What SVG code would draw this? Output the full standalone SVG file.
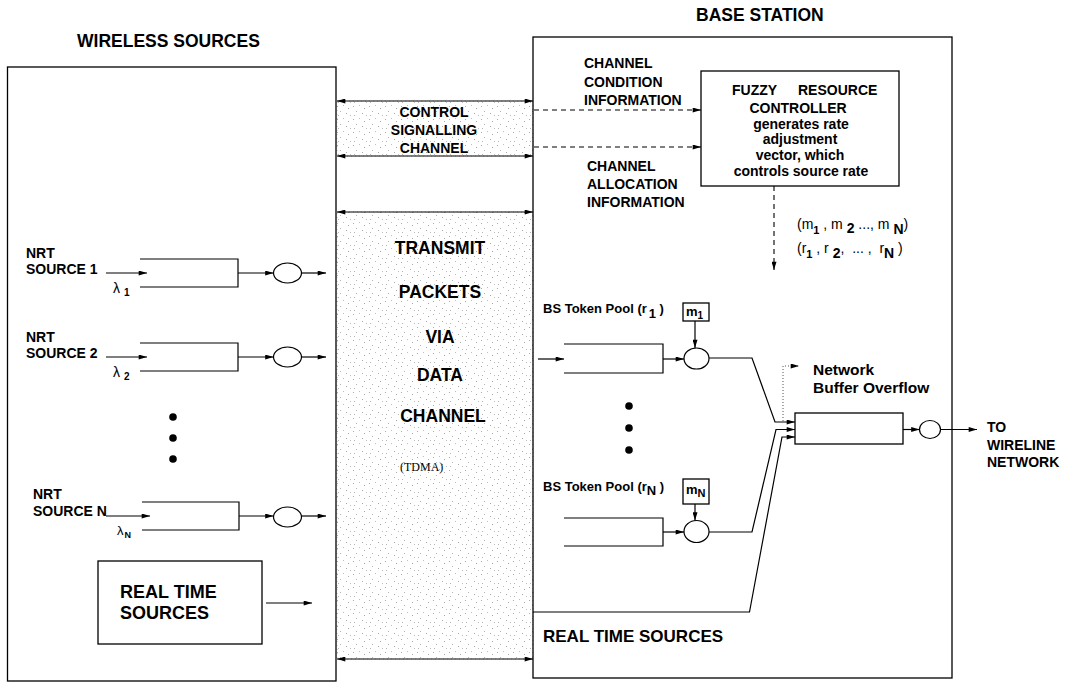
<svg xmlns="http://www.w3.org/2000/svg" width="1066" height="684" viewBox="0 0 1066 684">
<defs>
<style>
.b{font-family:"Liberation Sans",Arial,Helvetica,sans-serif;font-weight:bold;fill:#000}
.r{font-family:"Liberation Sans",Arial,Helvetica,sans-serif;fill:#000}
.box{fill:#fff;stroke:#000;stroke-width:1.3}
.ar{fill:none;stroke:#000;stroke-width:1.2;marker-end:url(#ah)}
.dar{fill:none;stroke:#000;stroke-width:1.2;marker-start:url(#ah);marker-end:url(#ah)}
.dash{fill:none;stroke:#000;stroke-width:1.1;stroke-dasharray:5 4;marker-end:url(#ah)}
.dot{fill:none;stroke:#555;stroke-width:1;stroke-dasharray:1 2;marker-end:url(#ah)}
.q{fill:none;stroke:#000;stroke-width:1.2}
.c{fill:#fff;stroke:#000;stroke-width:1.2}
.shade{fill:url(#stip);stroke:#b5b5b5;stroke-width:0.8;stroke-dasharray:1 3}
</style>
<marker id="ah" viewBox="0 0 10 6" refX="10" refY="3" markerWidth="9" markerHeight="5" markerUnits="userSpaceOnUse" orient="auto-start-reverse">
<path d="M0,0 L10,3 L0,6 z" fill="#000"/>
</marker>
<pattern id="stip" width="16" height="13" patternUnits="userSpaceOnUse">
<rect x="1" y="2" width="1" height="1" fill="#a8a8a8"/>
<rect x="7" y="1" width="1" height="1" fill="#bdbdbd"/>
<rect x="12" y="4" width="1" height="1" fill="#a8a8a8"/>
<rect x="4" y="7" width="1" height="1" fill="#b5b5b5"/>
<rect x="10" y="9" width="1" height="1" fill="#a8a8a8"/>
<rect x="14" y="11" width="1" height="1" fill="#c0c0c0"/>
<rect x="2" y="11" width="1" height="1" fill="#b5b5b5"/>
</pattern>
</defs>
<rect width="1066" height="684" fill="#fff"/>

<!-- channel shading -->
<g id="channels">
<rect class="shade" x="337" y="101" width="196" height="55"/>
<rect class="shade" x="337" y="212" width="196" height="447"/>
</g>

<!-- titles -->
<text class="b" x="77" y="47" font-size="17.5">WIRELESS SOURCES</text>
<text class="b" x="696" y="21" font-size="17.5">BASE STATION</text>

<!-- wireless sources box -->
<g id="wireless-box">
<rect x="7.5" y="67" width="328.5" height="614" fill="none" stroke="#000" stroke-width="1.3"/>
</g>

<!-- base station box -->
<g id="base-station-box">
<rect x="533" y="37" width="419" height="641" fill="none" stroke="#000" stroke-width="1.3"/>
</g>

<g id="control-channel-label">
<text class="b" font-size="14" text-anchor="middle"><tspan x="434" y="117">CONTROL</tspan><tspan x="434" y="135">SIGNALLING</tspan><tspan x="434" y="153">CHANNEL</tspan></text>
</g>

<g id="data-channel-label">
<text class="b" font-size="17.5" text-anchor="middle"><tspan x="440" y="254">TRANSMIT</tspan><tspan x="440" y="298">PACKETS</tspan><tspan x="440" y="343">VIA</tspan><tspan x="440" y="381">DATA</tspan><tspan x="443" y="422">CHANNEL</tspan></text>
<text x="400" y="471" font-family="'Liberation Serif','Times New Roman',serif" font-size="12">(TDMA)</text>
</g>

<!-- NRT source 1 -->
<g id="nrt-source-1">
<text class="b" font-size="14"><tspan x="26" y="258">NRT</tspan><tspan x="26" y="274">SOURCE 1</tspan></text>
<path class="q" d="M140,259 H238 V287 H140"/>
<text class="r" x="113" y="293" font-size="14">λ<tspan dx="4" dy="3" font-size="10" font-weight="bold">1</tspan></text>
<ellipse class="c" cx="287.5" cy="273" rx="14" ry="10"/>
</g>

<!-- NRT source 2 -->
<g id="nrt-source-2">
<text class="b" font-size="14"><tspan x="26" y="342">NRT</tspan><tspan x="26" y="358">SOURCE 2</tspan></text>
<path class="q" d="M140,343 H238 V371 H140"/>
<text class="r" x="113" y="377" font-size="14">λ<tspan dx="4" dy="3" font-size="10" font-weight="bold">2</tspan></text>
<ellipse class="c" cx="287.5" cy="357" rx="14" ry="10"/>
</g>

<g id="wireless-dots">
<circle cx="173" cy="417" r="3.8"/>
<circle cx="173" cy="438" r="3.8"/>
<circle cx="173" cy="459" r="3.8"/>
</g>

<!-- NRT source N -->
<g id="nrt-source-n">
<text class="b" font-size="14"><tspan x="33" y="499">NRT</tspan><tspan x="33" y="516">SOURCE N</tspan></text>
<path class="q" d="M142,502 H239 V530 H142"/>
<text class="r" x="117" y="535" font-size="13">λ<tspan dx="1" dy="3" font-size="9" font-weight="bold">N</tspan></text>
<ellipse class="c" cx="287.5" cy="517" rx="14" ry="10"/>
</g>

<g id="wireless-real-time">
<rect class="box" x="98" y="561" width="164" height="83"/>
<text class="b" font-size="18"><tspan x="120" y="598">REAL TIME</tspan><tspan x="120" y="619">SOURCES</tspan></text>
</g>

<!-- fuzzy controller -->
<g id="fuzzy-controller">
<rect class="box" x="701" y="71" width="198" height="115"/>
<text class="b" font-size="14"><tspan x="732" y="95">FUZZY</tspan><tspan x="798" y="95">RESOURCE</tspan></text>
<text class="b" font-size="14" text-anchor="middle"><tspan x="798" y="113">CONTROLLER</tspan><tspan x="801" y="129">generates rate</tspan><tspan x="800" y="144">adjustment</tspan><tspan x="800" y="160">vector, which</tspan><tspan x="801" y="176">controls source rate</tspan></text>
</g>

<g id="info-labels">
<text class="b" font-size="14"><tspan x="584" y="68">CHANNEL</tspan><tspan x="584" y="87">CONDITION</tspan><tspan x="584" y="105">INFORMATION</tspan></text>
<text class="b" font-size="14"><tspan x="587" y="171">CHANNEL</tspan><tspan x="587" y="189">ALLOCATION</tspan><tspan x="587" y="207">INFORMATION</tspan></text>
</g>

<g id="rate-vectors">
<text class="r" x="797" y="229" font-size="14" xml:space="preserve">(m<tspan dy="5" font-size="11" font-weight="bold">1</tspan><tspan dy="-5"> , m </tspan><tspan dy="4" font-weight="bold">2</tspan><tspan dy="-4"> ..., m </tspan><tspan dy="5" font-weight="bold">N</tspan><tspan dy="-5">)</tspan></text>
<text class="r" x="797" y="253" font-size="14" xml:space="preserve">(r<tspan dy="5" font-size="11" font-weight="bold">1</tspan><tspan dy="-5"> , r </tspan><tspan dy="5" font-weight="bold">2</tspan><tspan dy="-5">,  ... ,  r</tspan><tspan dy="5" font-weight="bold">N</tspan><tspan dy="-5"> )</tspan></text>
</g>

<!-- BS token pool 1 -->
<g id="bs-pool-1">
<text class="b" x="543" y="313" font-size="13" xml:space="preserve">BS Token Pool (r<tspan dx="2" dy="5">1</tspan><tspan dy="-5"> )</tspan></text>
<rect class="box" x="683" y="303" width="26" height="18"/>
<text class="b" x="686" y="316" font-size="13">m<tspan dy="3" font-size="10">1</tspan></text>
<path class="q" d="M564,344 H663 V373 H564"/>
<ellipse class="c" cx="696.5" cy="358.5" rx="12.5" ry="10.5"/>
</g>

<g id="bs-dots">
<circle cx="629" cy="406" r="3.8"/>
<circle cx="629" cy="428" r="3.8"/>
<circle cx="629" cy="450" r="3.8"/>
</g>

<!-- BS token pool N -->
<g id="bs-pool-n">
<text class="b" x="543" y="491" font-size="13" xml:space="preserve">BS Token Pool (r<tspan dy="4">N</tspan><tspan dy="-4"> )</tspan></text>
<rect class="box" x="683" y="479" width="26" height="25"/>
<text class="b" x="686" y="494" font-size="13">m<tspan dy="3" font-size="11">N</tspan></text>
<path class="q" d="M564,518 H663 V546 H564"/>
<ellipse class="c" cx="696.5" cy="531.5" rx="12.5" ry="11"/>
</g>

<g id="network-buffer">
<rect class="box" x="795" y="413" width="108" height="31"/>
<text class="b" font-size="15.5"><tspan x="813" y="375">Network</tspan><tspan x="813" y="393">Buffer Overflow</tspan></text>
<ellipse class="c" cx="930" cy="429.5" rx="10.5" ry="9"/>
</g>

<g id="to-wireline">
<text class="b" font-size="14"><tspan x="987" y="432">TO</tspan><tspan x="987" y="450">WIRELINE</tspan><tspan x="987" y="467">NETWORK</tspan></text>
</g>

<g id="bs-real-time">
<text class="b" x="543" y="642" font-size="17">REAL TIME SOURCES</text>
</g>

<!-- connectors -->
<g id="connectors">
<line class="dar" x1="337" y1="101" x2="533" y2="101"/>
<line class="dar" x1="337" y1="156" x2="533" y2="156"/>
<line class="dar" x1="337" y1="212" x2="533" y2="212"/>
<line class="dar" x1="337" y1="659" x2="533" y2="659"/>

<line class="dash" x1="534" y1="110" x2="701" y2="110"/>
<line class="dash" x1="534" y1="147" x2="701" y2="147"/>
<line class="dash" x1="774" y1="186" x2="774" y2="270"/>

<line class="ar" x1="106" y1="273" x2="147" y2="273"/>
<line class="ar" x1="238" y1="273" x2="273.5" y2="273"/>
<line class="ar" x1="301.5" y1="273" x2="326" y2="273"/>

<line class="ar" x1="106" y1="357" x2="147" y2="357"/>
<line class="ar" x1="238" y1="357" x2="273.5" y2="357"/>
<line class="ar" x1="301.5" y1="357" x2="326" y2="357"/>

<line class="ar" x1="106" y1="516" x2="150" y2="516"/>
<line class="ar" x1="239" y1="516" x2="273.5" y2="516"/>
<line class="ar" x1="301.5" y1="516" x2="326" y2="516"/>

<line class="ar" x1="266" y1="603" x2="312" y2="603"/>

<line class="ar" x1="538" y1="359" x2="564" y2="359"/>
<line class="ar" x1="663" y1="359" x2="684" y2="359"/>
<line class="ar" x1="695" y1="321" x2="695" y2="348"/>
<path class="ar" d="M709,358 H752 L775,422 H795"/>

<line class="ar" x1="663" y1="532" x2="684" y2="532"/>
<line class="ar" x1="695" y1="504" x2="695" y2="520.5"/>
<path class="ar" d="M709,532 H752 L776,429.5 H795"/>

<path class="ar" d="M533,612 H749.5 L782,437 H795"/>

<path class="dot" d="M783,421 V366 H799"/>

<line class="ar" x1="903" y1="429.5" x2="919.5" y2="429.5"/>
<line class="ar" x1="940.5" y1="429.5" x2="977" y2="429.5"/>
</g>
</svg>
